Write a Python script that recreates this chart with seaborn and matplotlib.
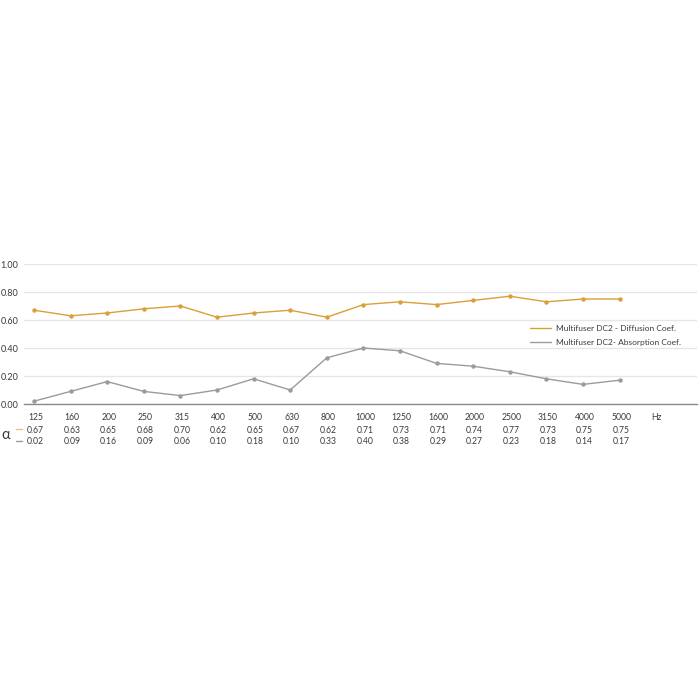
import matplotlib
matplotlib.use("Agg")
import matplotlib.pyplot as plt
import matplotlib.transforms as mtransforms
import seaborn as sns
import pandas as pd

freqs = ["125", "160", "200", "250", "315", "400", "500", "630", "800", "1000",
         "1250", "1600", "2000", "2500", "3150", "4000", "5000"]
diffusion = [0.67, 0.63, 0.65, 0.68, 0.70, 0.62, 0.65, 0.67, 0.62, 0.71,
             0.73, 0.71, 0.74, 0.77, 0.73, 0.75, 0.75]
absorption = [0.02, 0.09, 0.16, 0.09, 0.06, 0.10, 0.18, 0.10, 0.33, 0.40,
              0.38, 0.29, 0.27, 0.23, 0.18, 0.14, 0.17]
series_names = ["Multifuser DC2 - Diffusion Coef.", "Multifuser DC2- Absorption Coef."]
yticks = [0.0, 0.2, 0.4, 0.6, 0.8, 1.0]
unit_label = "Hz"

gold = "#D9A036"
grey = "#9B9B9B"
txt = "#3a3a3a"

sns.set_theme(style="white")
plt.rcParams['font.family'] = ['Lato', 'DejaVu Sans']

pos = list(range(len(freqs)))
df = pd.DataFrame({
    "pos": pos * 2,
    "value": diffusion + absorption,
    "series": [series_names[0]] * len(freqs) + [series_names[1]] * len(freqs),
})

fig = plt.figure(figsize=(7, 7), dpi=100)
ax = fig.add_axes([24 / 700, 1 - 404 / 700, 673 / 700, 140 / 700])

sns.lineplot(data=df, x="pos", y="value", hue="series",
             palette=[gold, grey], marker="o", markersize=3.2,
             markeredgewidth=0, linewidth=1.0, ax=ax)

ax.set_xlim(-10 / 36.6, 663 / 36.6)
ax.set_ylim(0, 1.0)
ax.set_yticks(yticks)
ax.set_yticklabels([f"{v:.2f}" for v in yticks], fontsize=6.5, color=txt)
ax.set_xticks([])
ax.set_xlabel("")
ax.set_ylabel("")
ax.tick_params(axis="y", length=0, pad=4)
ax.grid(axis="y", color="#e6e6e6", linewidth=1.0)
ax.set_axisbelow(True)
for s in ["top", "right", "left"]:
    ax.spines[s].set_visible(False)
ax.spines["bottom"].set_color("#8a8a8a")
ax.spines["bottom"].set_linewidth(1.0)
for line in ax.get_lines():
    line.set_clip_on(False)

# table under the chart
fs = 6.2
trans = mtransforms.blended_transform_factory(ax.transData, ax.transAxes)
for i, f in enumerate(freqs):
    ax.text(pos[i] + 0.04, -0.10, f, transform=trans, ha="center", va="center",
            fontsize=fs, color=txt)
    ax.text(pos[i] + 0.04, -0.186, f"{diffusion[i]:.2f}", transform=trans, ha="center",
            va="center", fontsize=fs, color=txt)
    ax.text(pos[i] + 0.04, -0.271, f"{absorption[i]:.2f}", transform=trans, ha="center",
            va="center", fontsize=fs, color=txt)
ax.text(len(freqs), -0.10, unit_label, transform=trans, ha="center", va="center",
        fontsize=fs, color=txt)

fig.text(6 / 700, 1 - 435 / 700, "α", ha="center", va="center", fontsize=10.5, color=txt)
fig.add_artist(plt.Line2D([16 / 700, 22.5 / 700], [1 - 429 / 700] * 2, color="#E8C27A", lw=1.0))
fig.add_artist(plt.Line2D([16 / 700, 22.5 / 700], [1 - 441 / 700] * 2, color=grey, lw=1.0))

leg = ax.legend(loc="upper left", bbox_to_anchor=(0.74, 0.62), frameon=False,
                fontsize=6.0, handlelength=2.6, handletextpad=0.6,
                labelspacing=0.85, markerscale=0)
for h in leg.get_lines():
    h.set_marker("")
for t in leg.get_texts():
    t.set_color(txt)

fig.savefig("out.png", dpi=100)
